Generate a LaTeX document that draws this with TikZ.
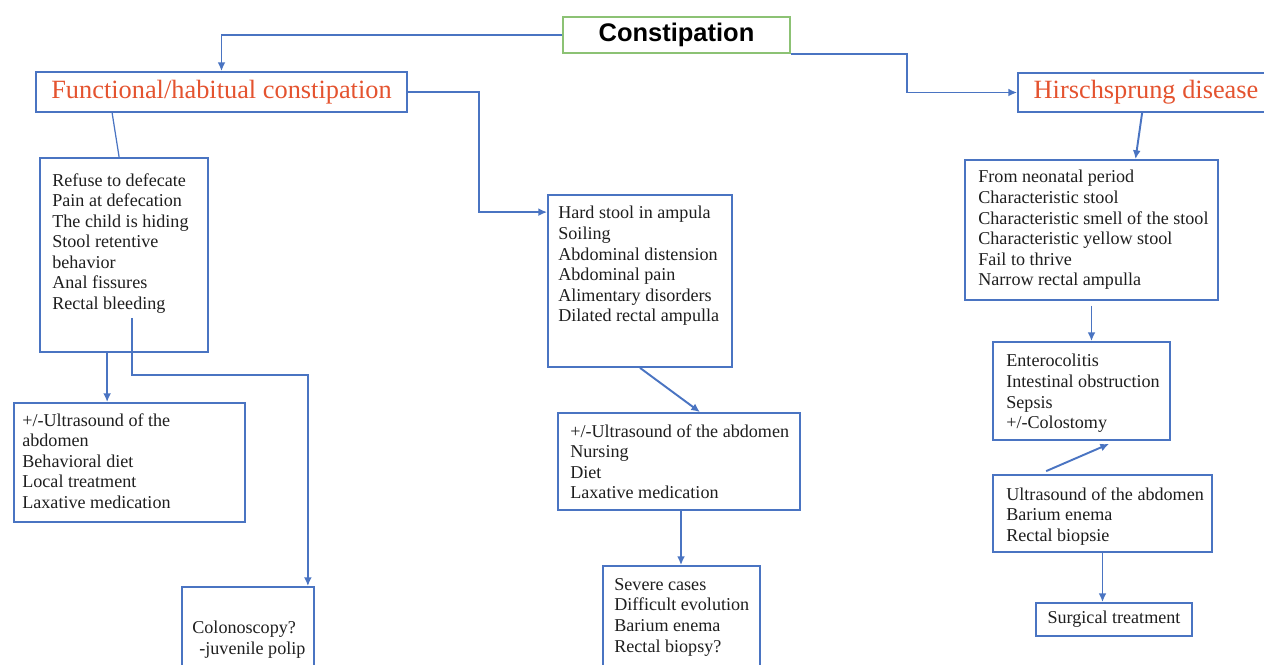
\documentclass[tikz,border=0pt]{standalone}
\usepackage{fontspec}
\setmainfont{Liberation Serif}
\newfontfamily\headfont{Liberation Sans}
\usepackage{tikz}
\usetikzlibrary{positioning,arrows.meta,calc,fit}
\definecolor{lineblue}{HTML}{4A74C2}
\definecolor{headred}{HTML}{E4532F}
\definecolor{headgreen}{HTML}{8CC274}
\definecolor{txtgray}{HTML}{1E1E1E}
\tikzset{
  box/.style={draw=lineblue,line width=1pt,inner sep=0pt},
  topbox/.style={draw=headgreen,line width=1pt,inner sep=0pt},
  toptxt/.style={inner sep=0pt,font=\headfont\bfseries\fontsize{14.5}{16}\selectfont},
  head/.style={inner sep=0pt,text=headred,font=\fontsize{15}{17}\selectfont},
  txt/.style={align=left,inner sep=0pt,text=txtgray,font=\fontsize{10.3}{11.7}\selectfont},
  arr/.style={-{Latex[length=5pt,width=4.5pt]},draw=lineblue,line width=1.1pt},
  link/.style={draw=lineblue,line width=0.7pt},
}

\begin{document}
\begin{tikzpicture}[x=0.02cm,y=-0.02cm]
\useasboundingbox (0,0) rectangle (1264,665);
% headings
\node[topbox, fit={(563,17) (790,53)}] (cons) {};
\node[toptxt] (const) at (cons.center) {Constipation};
\node[box, fit={(36,72) (407,112)}] (func) {};
\node[head] (funct) at (func.center) {Functional/habitual constipation};
\node[box, fit={(1018,73) (1272,112)}] (hirs) {};
\node[head] (hirst) at (1146,92) {Hirschsprung disease};

% functional branch
\node[box, fit={(40,158) (208,352)}] (sympF) {};
\node[txt, anchor=north west] (sympFt) at (52,173) {Refuse to defecate\\Pain at defecation\\The child is hiding\\Stool retentive\\behavior\\Anal fissures\\Rectal bleeding};
\coordinate (bleed) at (132,318);
\node[box, fit={(14,403) (245,522)}] (treatF) {};
\node[txt, anchor=north west] (treatFt) at (22,413) {+/-Ultrasound of the\\abdomen\\Behavioral diet\\Local treatment\\Laxative medication};
\node[box, fit={(182,587) (314,672)}] (colo) {};
\node[txt, anchor=north west] (colot) at (192,621) {Colonoscopy?\\\hspace*{4pt}-juvenile polip};

% middle branch
\node[box, fit={(548,195) (732,367)}] (sympM) {};
\node[txt, anchor=north west] (sympMt) at (558,206) {Hard stool in ampula\\Soiling\\Abdominal distension\\Abdominal pain\\Alimentary disorders\\Dilated rectal ampulla};
\node[box, fit={(558,413) (800,510)}] (treatM) {};
\node[txt, anchor=north west] (treatMt) at (570,424) {+/-Ultrasound of the abdomen\\Nursing\\Diet\\Laxative medication};
\node[box, fit={(603,566) (760,672)}] (severe) {};
\node[txt, anchor=north west] (severet) at (614,578) {Severe cases\\Difficult evolution\\Barium enema\\Rectal biopsy?};

% hirschsprung branch
\node[box, fit={(965,160) (1218,300)}] (sympH) {};
\node[txt, anchor=north west] (sympHt) at (978,170) {From neonatal period\\Characteristic stool\\Characteristic smell of the stool\\Characteristic yellow stool\\Fail to thrive\\Narrow rectal ampulla};
\node[box, fit={(993,342) (1170,440)}] (compl) {};
\node[txt, anchor=north west] (complt) at (1006,354) {Enterocolitis\\Intestinal obstruction\\Sepsis\\+/-Colostomy};
\node[box, fit={(993,475) (1212,552)}] (diag) {};
\node[txt, anchor=north west] (diagt) at (1006,487) {Ultrasound of the abdomen\\Barium enema\\Rectal biopsie};
\node[box, fit={(1036,603) (1192,636)}] (surg) {};
\node[txt] (surgt) at (surg.center) {Surgical treatment};

% connectors
\draw[arr] (cons.west) -| (func.north);
\draw[arr] (cons.south east) -- ++(116,0) |- (hirs.west);
\draw[arr] (func.east) -- ++(71,0) |- ($(sympM.north west)+(0,18)$);
\draw[link] ($(func.south west)+(77,0)$) -- ($(sympF.north west)+(80,0)$);
\draw[arr] ($(sympF.south west)+(68,0)$) coordinate (aF) -- (aF |- treatF.north);
\draw[arr] (bleed) -- ++(0,57) -| ($(colo.north east)+(-7,0)$);
\draw[arr] (sympM.south) -- ($(treatM.north)+(21,0)$);
\draw[arr] ($(treatM.south)+(2,0)$) coordinate (aM) -- (aM |- severe.north);
\draw[arr] ($(hirs.south west)+(125,0)$) -- ($(sympH.north)+(44,0)$);
\draw[arr] ($(sympH.south)+(0,5)$) coordinate (aH) -- (aH |- compl.north);
\draw[arr] ($(diag.north west)+(54,-3)$) -- ($(compl.south west)+(117,3)$);
\draw[arr] (diag.south) -- (diag.south |- surg.north);
\end{tikzpicture}
\end{document}
